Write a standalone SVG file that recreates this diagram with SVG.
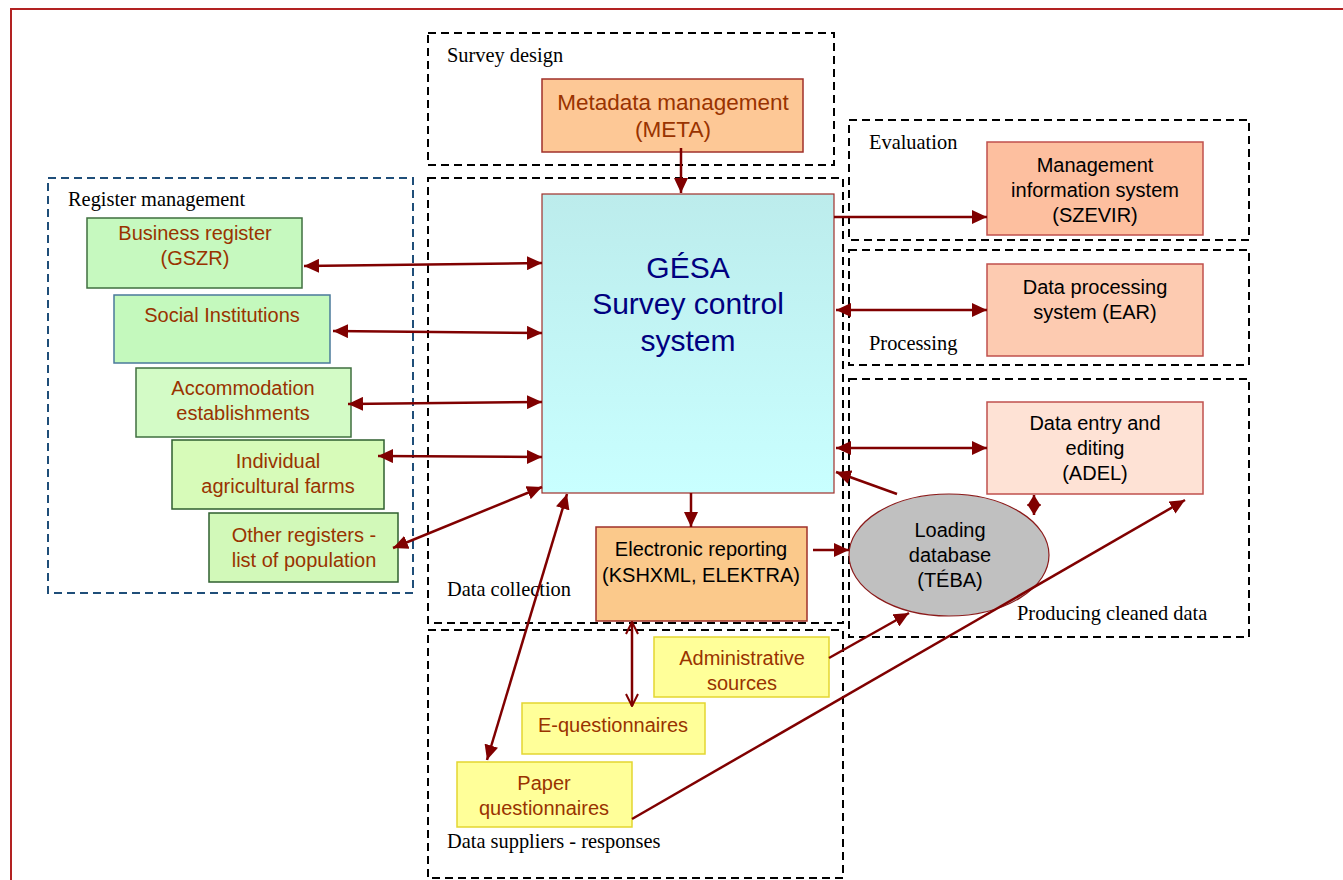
<svg xmlns="http://www.w3.org/2000/svg" width="1343" height="880" viewBox="0 0 1343 880">
<defs>
<linearGradient id="gesaFill" x1="0" y1="0" x2="0" y2="1">
<stop offset="0" stop-color="#bcecec"/>
<stop offset="1" stop-color="#c9ffff"/>
</linearGradient>
<marker id="ah" markerUnits="userSpaceOnUse" markerWidth="16" markerHeight="14" refX="15" refY="7" orient="auto-start-reverse" viewBox="0 0 16 14">
<path d="M0,0 L15,7 L0,14 z" fill="#800000"/>
</marker>
<marker id="ahs" markerUnits="userSpaceOnUse" markerWidth="12" markerHeight="14" refX="11" refY="7" orient="auto-start-reverse" viewBox="0 0 12 14">
<path d="M0,0 L11,7 L0,14 z" fill="#800000"/>
</marker>
<marker id="aho" markerUnits="userSpaceOnUse" markerWidth="14" markerHeight="14" refX="13" refY="7" orient="auto-start-reverse" viewBox="0 0 14 14">
<path d="M1,1 L13,7 L1,13" fill="none" stroke="#800000" stroke-width="2"/>
</marker>
</defs>
<style>
.frame{fill:none;stroke:#b22222;stroke-width:2}
.grp{fill:none;stroke:#000;stroke-width:2;stroke-dasharray:8 5}
.grpb{fill:none;stroke:#1f4e79;stroke-width:2;stroke-dasharray:8 5}
.lbl{font-family:"Liberation Serif","Times New Roman",serif;font-size:20.4px;fill:#000}
.t{font-family:"Liberation Sans",Arial,sans-serif;font-size:20px;text-anchor:middle}
.br{fill:#993300}
.bk{fill:#000}
.reg{fill:#c6f9bf;stroke:#3f6f3f;stroke-width:1.5}
.yel{fill:#ffff99;stroke:#e3d630;stroke-width:1.5}
.conn{stroke:#800000;stroke-width:2.5;fill:none}
</style>
<rect class="frame" x="11" y="9" width="1400" height="900"/>

<g id="group-survey-design">
<rect class="grp" x="428" y="33" width="406" height="132"/>
<text class="lbl" x="447" y="62">Survey design</text>
</g>
<g id="group-data-collection">
<rect class="grp" x="428" y="178" width="415" height="445"/>
<text class="lbl" x="447" y="596">Data collection</text>
</g>
<g id="group-data-suppliers">
<rect class="grp" x="428" y="630" width="415" height="248"/>
<text class="lbl" x="447" y="848">Data suppliers - responses</text>
</g>
<g id="group-register">
<rect class="grpb" x="48" y="178" width="365" height="415"/>
<text class="lbl" x="68" y="206">Register management</text>
</g>
<g id="group-evaluation">
<rect class="grp" x="849" y="120" width="400" height="120"/>
<text class="lbl" x="869" y="149">Evaluation</text>
</g>
<g id="group-processing">
<rect class="grp" x="849" y="250" width="400" height="115"/>
<text class="lbl" x="869" y="350">Processing</text>
</g>
<g id="group-cleaned">
<rect class="grp" x="849" y="379" width="400" height="258"/>
<text class="lbl" x="1017" y="620">Producing cleaned data</text>
</g>

<g id="node-meta">
<rect x="542" y="79" width="261" height="73" fill="#fdc896" stroke="#a0302a" stroke-width="1.5"/>
<text class="t br" x="673" y="110" style="font-size:22.5px">Metadata management</text>
<text class="t br" x="673" y="137" style="font-size:22.5px">(META)</text>
</g>
<g id="node-gesa">
<rect x="542" y="194" width="292" height="299" fill="url(#gesaFill)" stroke="#a0302a" stroke-width="1.2"/>
<text class="t" x="688" y="278" style="font-size:30px;fill:#000080">GÉSA</text>
<text class="t" x="688" y="314" style="font-size:30px;fill:#000080">Survey control</text>
<text class="t" x="688" y="351" style="font-size:30px;fill:#000080">system</text>
</g>
<g id="node-mis">
<rect x="987" y="142" width="216" height="93" fill="#fdbf9f" stroke="#c0504d" stroke-width="1.5"/>
<text class="t bk" x="1095" y="172">Management</text>
<text class="t bk" x="1095" y="197">information system</text>
<text class="t bk" x="1095" y="222">(SZEVIR)</text>
</g>
<g id="node-ear">
<rect x="987" y="264" width="216" height="92" fill="#fdcbb1" stroke="#c0504d" stroke-width="1.5"/>
<text class="t bk" x="1095" y="294">Data processing</text>
<text class="t bk" x="1095" y="319">system (EAR)</text>
</g>
<g id="node-adel">
<rect x="987" y="402" width="216" height="92" fill="#fee2d5" stroke="#c0504d" stroke-width="1.5"/>
<text class="t bk" x="1095" y="430">Data entry and</text>
<text class="t bk" x="1095" y="455">editing</text>
<text class="t bk" x="1095" y="480">(ADEL)</text>
</g>
<g id="node-teba">
<ellipse cx="949" cy="555" rx="100" ry="61" fill="#c0c0c0" stroke="#8b1a1a" stroke-width="1.2"/>
<text class="t bk" x="950" y="537">Loading</text>
<text class="t bk" x="950" y="562">database</text>
<text class="t bk" x="950" y="587">(TÉBA)</text>
</g>
<g id="node-ereport">
<rect x="596" y="527" width="211" height="94" fill="#fbc98b" stroke="#a0302a" stroke-width="1.5"/>
<text class="t bk" x="701" y="556">Electronic reporting</text>
<text class="t bk" x="701" y="582">(KSHXML, ELEKTRA)</text>
</g>
<g id="node-gszr">
<rect class="reg" x="87" y="218" width="215" height="70"/>
<text class="t br" x="195" y="240">Business register</text>
<text class="t br" x="195" y="265">(GSZR)</text>
</g>
<g id="node-social">
<rect x="114" y="295" width="216" height="68" fill="#c4f9bd" stroke="#4a7a9a" stroke-width="1.5"/>
<text class="t br" x="222" y="322">Social Institutions</text>
</g>
<g id="node-accom">
<rect x="136" y="368" width="215" height="69" fill="#d3fbc6" stroke="#3f6f3f" stroke-width="1.5"/>
<text class="t br" x="243" y="395">Accommodation</text>
<text class="t br" x="243" y="420">establishments</text>
</g>
<g id="node-farms">
<rect x="172" y="440" width="212" height="69" fill="#d7fbb9" stroke="#2f5f2f" stroke-width="1.5"/>
<text class="t br" x="278" y="468">Individual</text>
<text class="t br" x="278" y="493">agricultural farms</text>
</g>
<g id="node-other">
<rect x="209" y="513" width="189" height="69" fill="#d2f9b9" stroke="#2f5f2f" stroke-width="1.5"/>
<text class="t br" x="304" y="542">Other registers -</text>
<text class="t br" x="304" y="567">list of population</text>
</g>
<g id="node-admin">
<rect class="yel" x="654" y="637" width="175" height="60"/>
<text class="t br" x="742" y="665">Administrative</text>
<text class="t br" x="742" y="690">sources</text>
</g>
<g id="node-equest">
<rect class="yel" x="522" y="703" width="183" height="51"/>
<text class="t br" x="613" y="732">E-questionnaires</text>
</g>
<g id="node-paper">
<rect class="yel" x="457" y="762" width="175" height="65"/>
<text class="t br" x="544" y="790">Paper</text>
<text class="t br" x="544" y="815">questionnaires</text>
</g>

<g id="connectors">
<line class="conn" x1="681" y1="148" x2="681" y2="193" marker-end="url(#ah)"/>
<line class="conn" x1="834" y1="217" x2="987" y2="217" marker-end="url(#ah)"/>
<line class="conn" x1="836" y1="310" x2="987" y2="310" marker-start="url(#ah)" marker-end="url(#ah)"/>
<line class="conn" x1="836" y1="448" x2="987" y2="448" marker-start="url(#ah)" marker-end="url(#ah)"/>
<line class="conn" x1="897" y1="494" x2="836" y2="472" marker-end="url(#ah)"/>
<line class="conn" x1="1034" y1="495" x2="1034" y2="515" marker-start="url(#ahs)" marker-end="url(#ahs)"/>
<line class="conn" x1="813" y1="550" x2="849" y2="550" marker-end="url(#ah)"/>
<line class="conn" x1="691" y1="493" x2="691" y2="527" marker-end="url(#ah)"/>
<line class="conn" x1="632" y1="622" x2="632" y2="706" stroke-width="2" marker-start="url(#aho)" marker-end="url(#aho)"/>
<line class="conn" x1="829" y1="658" x2="909" y2="613" marker-end="url(#ah)"/>
<line class="conn" x1="632" y1="819" x2="1185" y2="500" marker-end="url(#ah)"/>
<line class="conn" x1="567" y1="494" x2="487" y2="760" marker-start="url(#ah)" marker-end="url(#ah)"/>
<line class="conn" x1="542" y1="487" x2="393" y2="548" marker-start="url(#ah)" marker-end="url(#ah)"/>
<line class="conn" x1="542" y1="263" x2="304" y2="266" marker-start="url(#ah)" marker-end="url(#ah)"/>
<line class="conn" x1="542" y1="333" x2="333" y2="331" marker-start="url(#ah)" marker-end="url(#ah)"/>
<line class="conn" x1="542" y1="402" x2="348" y2="404" marker-start="url(#ah)" marker-end="url(#ah)"/>
<line class="conn" x1="542" y1="457" x2="378" y2="456" marker-start="url(#ah)" marker-end="url(#ah)"/>
</g>
</svg>
